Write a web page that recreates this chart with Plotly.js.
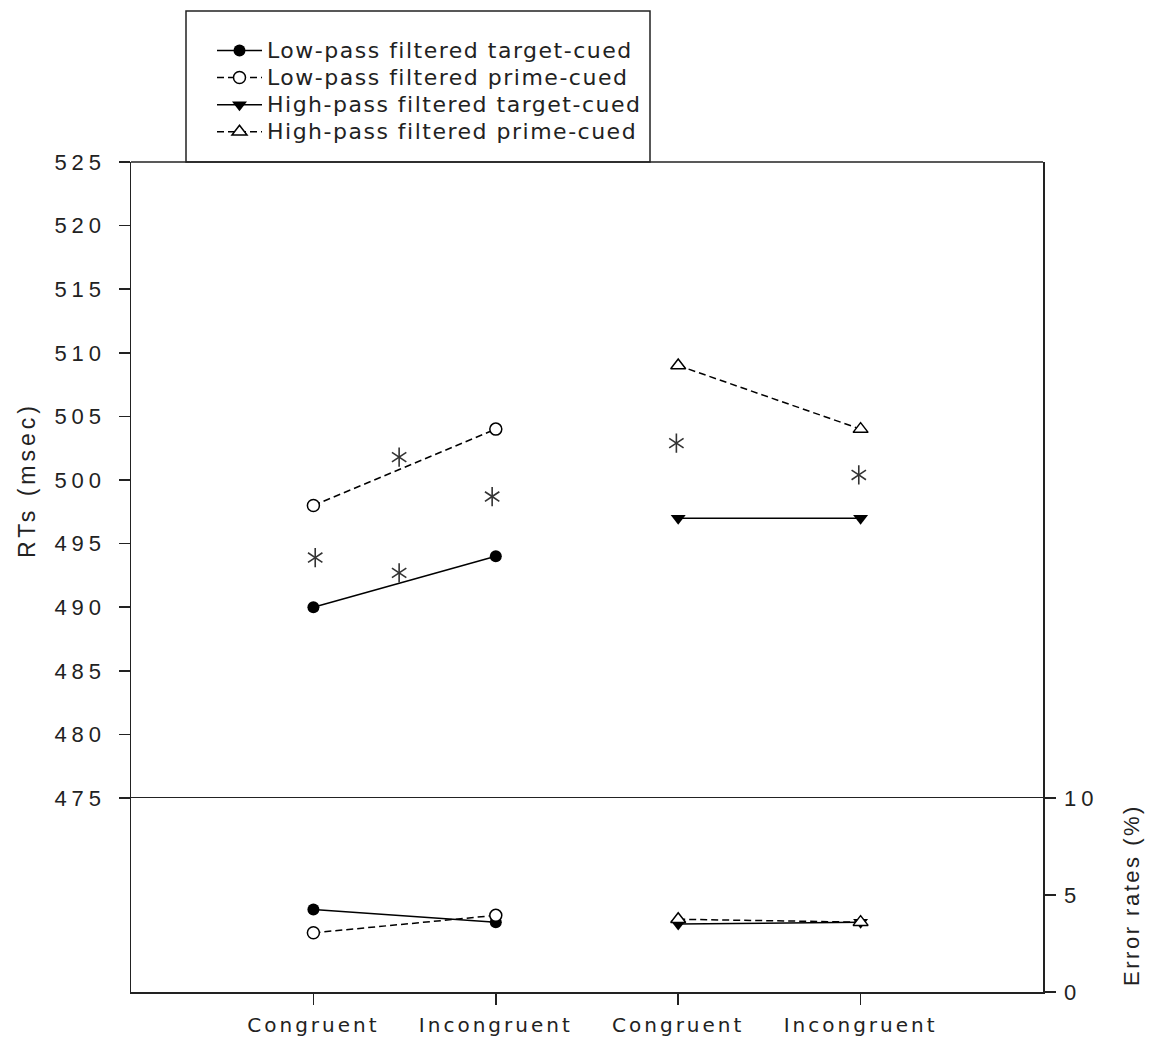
<!DOCTYPE html>
<html>
<head>
<meta charset="utf-8">
<script src="https://cdn.plot.ly/plotly-3.0.1.min.js"></script>
<style>
  html, body { margin: 0; padding: 0; background: #fff; }
  #chart { width: 1155px; height: 1039px; }
  .xtick text { letter-spacing: 3px; }
  .ytick text, .y2tick text { letter-spacing: 5px; }
  .ytitle { letter-spacing: 4px; }
  .y2title { letter-spacing: 2.5px; }
  .legendtext { letter-spacing: 1.5px; }
</style>
</head>
<body>
<div id="chart"></div>
<script>
// ---- data ----
var tickPositions = [1, 2, 3, 4];
var tickLabels = ['Congruent', 'Incongruent', 'Congruent', 'Incongruent'];
var lowPassPos = [1, 2];
var highPassPos = [3, 4];

var seriesNames = [
  'Low-pass filtered target-cued',
  'Low-pass filtered prime-cued',
  'High-pass filtered target-cued',
  'High-pass filtered prime-cued'
];

// Reaction times (msec)
var rtLowTarget = [490, 494];
var rtLowPrime = [498, 504];
var rtHighTarget = [497, 497];
var rtHighPrime = [509, 504];

// Error rates (%)
var errLowTarget = [4.25, 3.6];
var errLowPrime = [3.05, 3.95];
var errHighTarget = [3.5, 3.6];
var errHighPrime = [3.75, 3.6];

// significance asterisks
var starX = [1.01, 1.47, 1.47, 1.98, 2.99, 3.99];
var starY = [493.9, 501.8, 492.7, 498.7, 502.9, 500.4];

// ---- styles ----
var black = '#000';
var solidLine = {color: black, width: 1.5};
var dashLine = {color: black, width: 1.5, dash: '7px,4px'};
var mFilledCircle = {symbol: 'circle', size: 12, color: black};
var mOpenCircle = {symbol: 'circle', size: 12, color: '#fff', line: {color: black, width: 1.5}};
var mFilledTriDown = {symbol: 'triangle-down', size: 13, color: black};
var mOpenTriUp = {symbol: 'triangle-up', size: 13, color: '#fff', line: {color: black, width: 1.5}};

function wrapName(n) { return '<span style="font-size:22px">' + n + '</span>'; }

var specs = [
  {pos: lowPassPos, rt: rtLowTarget, err: errLowTarget, line: solidLine, marker: mFilledCircle},
  {pos: lowPassPos, rt: rtLowPrime, err: errLowPrime, line: dashLine, marker: mOpenCircle},
  {pos: highPassPos, rt: rtHighTarget, err: errHighTarget, line: solidLine, marker: mFilledTriDown},
  {pos: highPassPos, rt: rtHighPrime, err: errHighPrime, line: dashLine, marker: mOpenTriUp}
];

var traces = [];
specs.forEach(function (s, i) {
  traces.push({
    type: 'scatter', mode: 'lines+markers', x: s.pos, y: s.rt,
    xaxis: 'x', yaxis: 'y', name: wrapName(seriesNames[i]),
    line: s.line, marker: s.marker, showlegend: true, hoverinfo: 'skip'
  });
});
specs.forEach(function (s, i) {
  traces.push({
    type: 'scatter', mode: 'lines+markers', x: s.pos, y: s.err,
    xaxis: 'x', yaxis: 'y2', name: seriesNames[i],
    line: s.line, marker: s.marker, showlegend: false, hoverinfo: 'skip'
  });
});
['y-up-open', 'y-down-open'].forEach(function (sym) {
  traces.push({
    type: 'scatter', mode: 'markers', x: starX, y: starY, xaxis: 'x', yaxis: 'y',
    marker: {symbol: sym, size: 12, color: '#333', line: {color: '#333', width: 1.6}},
    showlegend: false, hoverinfo: 'skip'
  });
});

var tickFont = {family: 'Liberation Sans, Arial, sans-serif', size: 22, color: '#222'};
var W = 1155, H = 1039;
var mL = 131, mR = W - 1043, mT = 162, mB = H - 992;
var plotH = H - mT - mB;
var splitFrac = (992 - 798) / plotH;

var layout = {
  width: W, height: H,
  margin: {l: mL, r: mR, t: mT, b: mB, pad: 0},
  paper_bgcolor: '#fff', plot_bgcolor: '#fff',
  showlegend: true,
  xaxis: {
    domain: [0, 1], range: [0, 5], anchor: 'y2',
    tickvals: tickPositions, ticktext: tickLabels,
    ticks: 'outside', ticklen: 11, tickwidth: 1.5, tickcolor: '#222',
    showline: true, mirror: true, linecolor: '#222', linewidth: 1.5,
    showgrid: false, zeroline: false, ticklabelstandoff: 3,
    tickfont: {family: 'DejaVu Sans, sans-serif', size: 20, color: '#222'}
  },
  yaxis: {
    domain: [splitFrac, 1], range: [475, 525], anchor: 'x',
    tickmode: 'linear', tick0: 475, dtick: 5,
    ticks: 'outside', ticklen: 11, tickwidth: 1.5, tickcolor: '#222',
    showline: true, mirror: true, linecolor: '#222', linewidth: 1.5,
    showgrid: false, zeroline: false, ticklabelstandoff: 8,
    tickfont: tickFont,
    title: {text: 'RTs (msec)', font: {family: 'Liberation Sans, Arial, sans-serif', size: 23, color: '#222'}, standoff: 12}
  },
  yaxis2: {
    domain: [0, splitFrac], range: [0, 10], anchor: 'x', side: 'right',
    tickvals: [0, 5, 10],
    ticks: 'outside', ticklen: 11, tickwidth: 1.5, tickcolor: '#222',
    showline: true, mirror: true, linecolor: '#222', linewidth: 1.5,
    showgrid: false, zeroline: false, ticklabelstandoff: 4,
    tickfont: tickFont,
    title: {text: 'Error rates (%)', font: {family: 'Liberation Sans, Arial, sans-serif', size: 22, color: '#222'}, standoff: 26}
  },
  legend: {
    x: (212 - mL) / 912, xanchor: 'left',
    y: (992 - 32) / plotH, yanchor: 'top',
    bgcolor: 'rgba(0,0,0,0)', borderwidth: 0,
    font: {family: 'DejaVu Sans, sans-serif', size: 18.5, color: '#222'},
    itemwidth: 45, tracegroupgap: 0
  },
  shapes: [
    {type: 'line', xref: 'paper', yref: 'paper', x0: 0, x1: 1, y0: 1, y1: 1,
     line: {color: '#222', width: 1.5}},
    {type: 'rect', xref: 'paper', yref: 'paper',
     x0: (186 - mL) / 912, x1: (650 - mL) / 912, y0: 1, y1: (992 - 11) / plotH,
     line: {color: '#222', width: 1.5}, fillcolor: '#fff', layer: 'below'}
  ]
};

Plotly.newPlot('chart', traces, layout, {displayModeBar: false, staticPlot: true});
</script>
</body>
</html>
